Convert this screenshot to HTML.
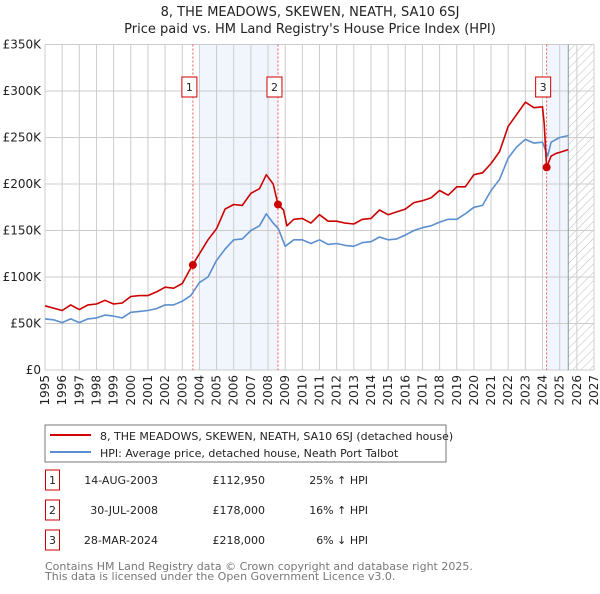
<!DOCTYPE html>
<html><head><meta charset="utf-8"><style>
body{margin:0;background:#fff;font-family:"DejaVu Sans","Liberation Sans",sans-serif;}
svg text{font-family:"DejaVu Sans","Liberation Sans",sans-serif;}
</style></head><body>
<svg id="c" width="600" height="590" xmlns="http://www.w3.org/2000/svg">
<defs><pattern id="hatch" width="6" height="6" patternUnits="userSpaceOnUse" patternTransform="rotate(45)"><line x1="0" y1="0" x2="0" y2="6" stroke="#bbb" stroke-width="1"/></pattern></defs>
<text x="310" y="16" text-anchor="middle" font-size="13" fill="#222">8, THE MEADOWS, SKEWEN, NEATH, SA10 6SJ</text>
<text x="310" y="33" text-anchor="middle" font-size="13" fill="#222">Price paid vs. HM Land Registry's House Price Index (HPI)</text>
<g id="plot"></g>
<rect x="45" y="425" width="401" height="37" fill="#fff" stroke="#777"/>
<line x1="50" y1="435" x2="91" y2="435" stroke="#cc0000" stroke-width="2"/>
<text x="100" y="440" font-size="11" fill="#222">8, THE MEADOWS, SKEWEN, NEATH, SA10 6SJ (detached house)</text>
<line x1="50" y1="452" x2="91" y2="452" stroke="#5b8fd0" stroke-width="2"/>
<text x="100" y="457" font-size="11" fill="#222">HPI: Average price, detached house, Neath Port Talbot</text>
<g id="tbl"></g>
<text x="45" y="570" font-size="11" fill="#777">Contains HM Land Registry data © Crown copyright and database right 2025.</text>
<text x="45" y="580" font-size="11" fill="#777">This data is licensed under the Open Government Licence v3.0.</text>
</svg>
<script>
const hpiYears=[1995,1995.5,1996,1996.5,1997,1997.5,1998,1998.5,1999,1999.5,2000,2000.5,2001,2001.5,2002,2002.5,2003,2003.5,2004,2004.5,2005,2005.5,2006,2006.5,2007,2007.5,2007.9,2008.3,2008.6,2009,2009.5,2010,2010.5,2011,2011.5,2012,2012.5,2013,2013.5,2014,2014.5,2015,2015.5,2016,2016.5,2017,2017.5,2018,2018.5,2019,2019.5,2020,2020.5,2021,2021.5,2022,2022.5,2023,2023.5,2024,2024.3,2024.5,2025,2025.5];
const hpiValues=[55,54,51,55,51,55,56,59,58,56,62,63,64,66,70,70,74,80,94,100,118,130,140,141,150,155,168,158,152,133,140,140,136,140,135,136,134,133,137,138,143,140,141,145,150,153,155,159,162,162,168,175,177,193,205,228,240,248,244,245,230,245,250,252];
const priceYears=[1995,1996,1996.5,1997,1997.5,1998,1998.5,1999,1999.5,2000,2000.5,2001,2001.5,2002,2002.5,2003,2003.6,2004,2004.5,2005,2005.5,2006,2006.5,2007,2007.5,2007.9,2008.3,2008.58,2008.9,2009.1,2009.5,2010,2010.5,2011,2011.5,2012,2012.5,2013,2013.5,2014,2014.5,2015,2015.5,2016,2016.5,2017,2017.5,2018,2018.5,2019,2019.5,2020,2020.5,2021,2021.5,2022,2022.5,2023,2023.5,2024,2024.1,2024.24,2024.5,2024.8,2025,2025.5];
const priceValues=[69,64,70,65,70,71,75,71,72,79,80,80,84,89,88,93,113,125,140,152,173,178,177,190,195,210,200,178,172,155,162,163,158,167,160,160,158,157,162,163,172,167,170,173,180,182,185,193,188,197,197,210,212,222,235,262,275,288,282,283,265,218,230,233,234,237];
const saleLabels=["1","2","3"];
const saleYears=[2003.62,2008.58,2024.24];
const saleValues=[112.95,178,218];
const saleDates=["14-AUG-2003","30-JUL-2008","28-MAR-2024"];
const salePrices=["£112,950","£178,000","£218,000"];
const saleDiffs=["25% ↑ HPI","16% ↑ HPI","6% ↓ HPI"];
const yTicks=[0,50,100,150,200,250,300,350];
const yTickLabels=["£0","£50K","£100K","£150K","£200K","£250K","£300K","£350K"];
const xTicks=[];for(let y=1995;y<=2027;y++)xTicks.push(y);

const X0=45,X1=594,Y0=370,Y1=44.5,ymin=1995,ymax=2027,vmax=350;
const sx=t=>X0+(t-ymin)/(ymax-ymin)*(X1-X0);
const sy=v=>Y0-v/vmax*(Y0-Y1);
const NS="http://www.w3.org/2000/svg";
const plot=document.getElementById('plot');
function mk(tag,attrs,parent){const e=document.createElementNS(NS,tag);for(const k in attrs)e.setAttribute(k,attrs[k]);(parent||plot).appendChild(e);return e;}

let r=mk('rect',{x:sx(2004),y:Y1,width:sx(saleYears[1])-sx(2004),height:Y0-Y1,fill:'#eef3fc',opacity:0.8});


r=mk('rect',{x:sx(saleYears[2]),y:Y1,width:sx(2025.5)-sx(saleYears[2]),height:Y0-Y1,fill:'#eef3fc',opacity:0.8});


r=mk('rect',{x:sx(2025.5),y:Y1,width:X1-sx(2025.5),height:Y0-Y1,fill:'url(#hatch)'});



yTicks.forEach((v,i)=>{
 let l=mk('line',{x1:X0,x2:X1,y1:sy(v),y2:sy(v),stroke:'#ccc','stroke-width':1});
 
 
 let t=mk('text',{x:X0-4,y:sy(v)+4,'text-anchor':'end','font-size':12,fill:'#222'});
 t.textContent=yTickLabels[i];
 
 
});
xTicks.forEach(y=>{
 let l=mk('line',{x1:sx(y),x2:sx(y),y1:Y1,y2:Y0,stroke:'#ccc','stroke-width':1});
 
 
 let t=mk('text',{transform:`translate(${sx(y)+4},${Y0+5}) rotate(-90)`,'text-anchor':'end','font-size':12,fill:'#222'});
 t.textContent=y;
 
 
});
let ln=mk('line',{x1:sx(2025.5),x2:sx(2025.5),y1:Y1,y2:Y0,stroke:'#8a96a8','stroke-width':1});



saleYears.forEach((t,i)=>{
 let l=mk('line',{x1:sx(t),x2:sx(t),y1:Y1,y2:Y0,stroke:'#e55','stroke-width':1,'stroke-dasharray':'2,2'});
 
 
});

function path(xs,vs,color,name){
 const d=xs.map((t,i)=>(i?'L':'M')+sx(t).toFixed(1)+','+sy(vs[i]).toFixed(1)).join('');
 const p=mk('path',{d:d,fill:'none',stroke:color,'stroke-width':1.6,'stroke-linejoin':'round'});
 
 
}
path(hpiYears,hpiValues,'#5b8fd0','hpi-line');
path(priceYears,priceValues,'#cc0000','price-paid-line');

saleYears.forEach((t,i)=>{
 let c=mk('circle',{cx:sx(t),cy:sy(saleValues[i]),r:4,fill:'#cc0000'});
 
 
 let bx=sx(t)-3.5;
 let b=mk('rect',{x:bx-7.5,y:77,width:15,height:20,fill:'#fff',stroke:'#cc0000','stroke-width':1});
 
 
 let tx=mk('text',{x:bx,y:91,'text-anchor':'middle','font-size':11,fill:'#222'});
 tx.textContent=saleLabels[i];
 
 
});

const tbl=document.getElementById('tbl');
saleLabels.forEach((s,i)=>{
 const yy=483+i*30;
 let b=mk('rect',{x:45.5,y:yy-13,width:14,height:20,fill:'#fff',stroke:'#cc0000'},tbl);
 
 
 let t=mk('text',{x:52.5,y:yy+1,'text-anchor':'middle','font-size':11,fill:'#222'},tbl);t.textContent=s;
 
 
 t=mk('text',{x:158,y:yy+1,'text-anchor':'end','font-size':11,fill:'#222'},tbl);t.textContent=saleDates[i];
 
 
 t=mk('text',{x:265,y:yy+1,'text-anchor':'end','font-size':11,fill:'#222'},tbl);t.textContent=salePrices[i];
 
 
 t=mk('text',{x:368,y:yy+1,'text-anchor':'end','font-size':11,fill:'#222'},tbl);t.textContent=saleDiffs[i];
 
 
});
</script>
</body></html>
